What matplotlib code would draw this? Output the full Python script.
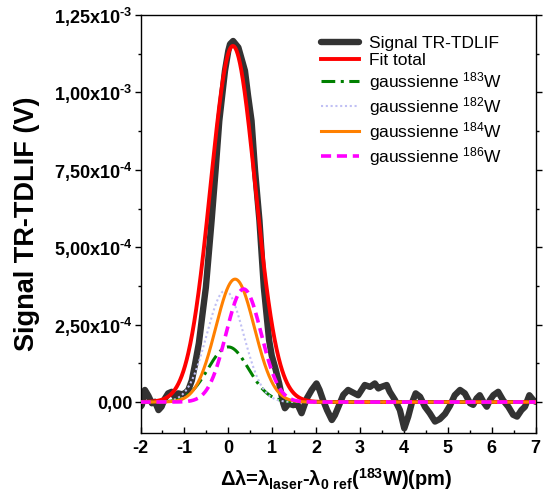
import numpy as np
import matplotlib
matplotlib.use("Agg")
import matplotlib.pyplot as plt
from matplotlib.ticker import MultipleLocator, FixedLocator

plt.rcParams['font.family'] = ['Liberation Sans', 'DejaVu Sans']
plt.rcParams['mathtext.fontset'] = 'custom'
plt.rcParams['mathtext.rm'] = 'Liberation Sans'
plt.rcParams['mathtext.default'] = 'regular'

# ---- data ----
# measured signal (V, units of 1e-4)
sig_x = [-2.00, -1.97, -1.90, -1.82, -1.74, -1.67, -1.59, -1.52, -1.45, -1.37,
         -1.29, -1.21, -1.14, -1.06, -0.99, -0.91, -0.83, -0.76, -0.67, -0.60,
         -0.51, -0.38, -0.29, -0.205, -0.075, 0.00, 0.04, 0.11, 0.23, 0.38,
         0.45, 0.53, 0.61, 0.71, 0.81, 0.93, 0.99, 1.07, 1.16, 1.25,
         1.29, 1.38, 1.48, 1.57, 1.67, 1.79, 1.90, 2.01, 2.08, 2.16,
         2.25, 2.36, 2.43, 2.51, 2.62, 2.73, 2.81, 2.96, 3.11, 3.23,
         3.34, 3.42, 3.49, 3.61, 3.68, 3.80, 3.91, 4.01, 4.10, 4.18,
         4.27, 4.37, 4.48, 4.59, 4.71, 4.82, 4.94, 5.05, 5.16, 5.28,
         5.39, 5.51, 5.58, 5.66, 5.73, 5.81, 5.89, 5.96, 6.04, 6.15,
         6.26, 6.38, 6.49, 6.58, 6.68, 6.76, 6.86, 6.95, 7.00]
sig_y = [-0.15, -0.10, 0.39, 0.20, -0.04, 0.01, -0.26, -0.15, 0.10, 0.28,
         0.33, 0.15, 0.28, 0.25, 0.28, 0.39, 0.70, 1.20, 1.90, 2.70,
         3.71, 5.86, 7.47, 9.08, 10.70, 11.34, 11.56, 11.66, 11.45, 10.70,
         9.90, 9.08, 7.47, 5.86, 3.71, 2.00, 1.50, 1.10, 0.60, -0.03,
         -0.20, -0.05, -0.10, -0.05, -0.36, 0.12, 0.39, 0.60, 0.39, 0.06,
         -0.26, -0.58, -0.42, -0.15, 0.23, 0.39, 0.33, 0.22, 0.55, 0.49,
         0.60, 0.44, 0.49, 0.55, 0.33, 0.06, -0.26, -0.85, -0.47, -0.04,
         0.28, 0.17, -0.15, -0.36, -0.63, -0.55, -0.38, -0.12, 0.22, 0.39,
         0.28, -0.04, -0.09, 0.12, 0.22, 0.01, -0.15, 0.06, 0.22, 0.33,
         0.06, -0.15, -0.41, -0.47, -0.26, -0.15, 0.22, 0.06, 0.01]

# Gaussian fit parameters (amplitude in 1e-4 V, centre and sigma in pm)
fit_total = dict(amp=11.5, center=0.105, sigma=0.51)
comp_names = ["183", "182", "184", "186"]
comp_amp = [1.78, 3.6, 3.97, 3.65]
comp_center = [0.00, -0.07, 0.155, 0.35]
comp_sigma = [0.46, 0.42, 0.44, 0.40]

x_ticks = [-2, -1, 0, 1, 2, 3, 4, 5, 6, 7]
y_ticks = [0, 2.5e-4, 5e-4, 7.5e-4, 1e-3, 1.25e-3]
y_tick_labels = ["0,00", "2,50x10$^{\u20104}$", "5,00x10$^{\u20104}$",
                 "7,50x10$^{\u20104}$", "1,00x10$^{\u20103}$", "1,25x10$^{\u20103}$"]


def gauss(x, a, c, s):
    return a * 1e-4 * np.exp(-(x - c) ** 2 / (2 * s ** 2))


fig = plt.figure(figsize=(5.44, 4.94), dpi=100)
ax = fig.add_axes([140.5 / 544, 61 / 494, 395 / 544, 418 / 494])

xx = np.linspace(-2, 7, 1200)

ax.plot(sig_x, np.array(sig_y) * 1e-4, color='#333333', lw=4.6,
        solid_joinstyle='round', solid_capstyle='round', label='Signal TR-TDLIF', zorder=2)
ax.plot(xx, gauss(xx, fit_total['amp'], fit_total['center'], fit_total['sigma']),
        color='#ff0000', lw=2.8, label='Fit total', zorder=3)

styles = {
    "183": dict(color='#008000', lw=2.2, dashes=(4.5, 1.8, 1, 1.8)),
    "182": dict(color='#c0c0f4', lw=1.5, dashes=(1, 1.3)),
    "184": dict(color='#ff8000', lw=2.2),
    "186": dict(color='#ff00ff', lw=2.6, dashes=(2.8, 1.6)),
}
zorders = {"183": 4, "182": 5, "184": 6, "186": 7}
for name, a, c, s in zip(comp_names, comp_amp, comp_center, comp_sigma):
    ax.plot(xx, gauss(xx, a, c, s), label='gaussienne $^{%s}$W' % name,
            zorder=zorders[name], **styles[name])

ax.set_xlim(-2, 7)
ax.set_ylim(-1e-4, 1.25e-3)
ax.xaxis.set_major_locator(FixedLocator(x_ticks))
ax.xaxis.set_minor_locator(MultipleLocator(0.5))
ax.yaxis.set_major_locator(FixedLocator(y_ticks))
ax.yaxis.set_minor_locator(MultipleLocator(1.25e-4))
ax.set_yticklabels(y_tick_labels)
ax.set_xticklabels([str(t) for t in x_ticks])

ax.tick_params(axis='both', which='major', direction='out', length=4, width=1,
               labelsize=13)
ax.tick_params(axis='x', which='major', pad=5)
ax.tick_params(axis='y', which='major', pad=2)
ax.tick_params(axis='both', which='minor', direction='out', length=2.5, width=1)
ax.tick_params(right=True, which='both', direction='in')
ax.tick_params(axis='y', which='both', left=True, direction='out')
for lab in ax.get_xticklabels() + ax.get_yticklabels():
    lab.set_fontweight('bold')
for sp in ax.spines.values():
    sp.set_linewidth(1.0)

ax.set_ylabel('Signal TR-TDLIF (V)', fontsize=19.5, fontweight='bold')
ax.yaxis.set_label_coords(-0.255, 0.5)
ax.set_xlabel('Δλ=λ$_{laser}$-λ$_{0\\ ref}$($^{183}$W)(pm)', fontsize=14.5,
              fontweight='bold')
ax.xaxis.set_label_coords(0.495, -0.08)

ax.legend(loc='upper left', bbox_to_anchor=(0.425, 0.98), frameon=False,
          fontsize=12.5, handlelength=2.2, labelspacing=0.12, handletextpad=0.6,
          borderpad=0.2)

fig.savefig('out.png', dpi=100)
